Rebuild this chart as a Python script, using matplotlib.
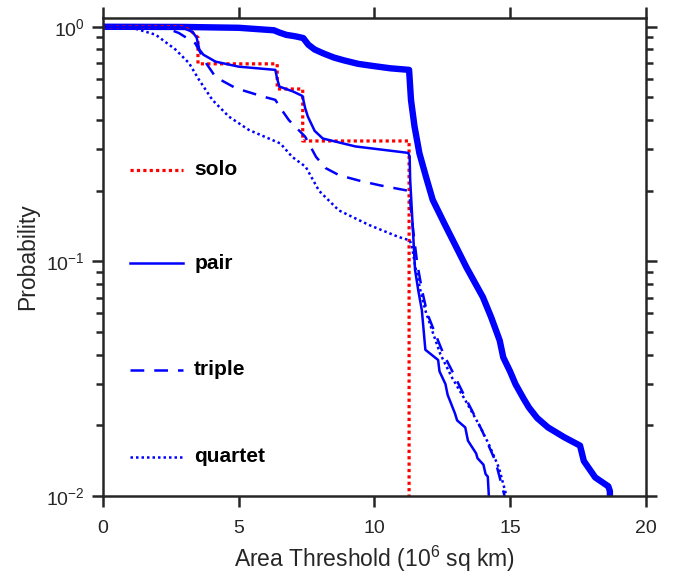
import matplotlib
matplotlib.use('Agg')
import matplotlib.pyplot as plt
from matplotlib.ticker import LogLocator, LogFormatterMathtext, NullFormatter

plt.rcParams['font.family'] = ['Liberation Sans', 'DejaVu Sans']
plt.rcParams['mathtext.default'] = 'regular'

BLUE = (0, 0, 1)
RED = (1, 0, 0)
SPINE = '#262626'

# any (thick) curve
any_x = [0, 3.0, 5.0, 6.3, 6.5, 6.75, 7.1, 7.38, 7.57, 7.8, 8.12, 8.5, 8.86, 9.4,
         9.97, 10.6, 11.28, 11.35, 11.48, 11.66, 11.9, 12.15, 12.58, 13.07, 13.4,
         14.0, 14.3, 14.62, 14.75, 15.0, 15.2, 15.5, 15.7, 16.0, 16.4, 17.0, 17.58,
         17.72, 18.14, 18.62, 18.68, 18.68]
any_p = [1.0, 0.998, 0.99, 0.966, 0.945, 0.924, 0.91, 0.895, 0.838, 0.80, 0.77,
         0.74, 0.72, 0.695, 0.68, 0.665, 0.655, 0.488, 0.376, 0.289, 0.23, 0.183,
         0.145, 0.112, 0.094, 0.0704, 0.058, 0.046, 0.039, 0.034, 0.030, 0.026,
         0.0238, 0.0215, 0.0196, 0.0178, 0.0164, 0.0141, 0.012, 0.011, 0.0105, 0.009]

solo_x = [0, 2.9, 3.2, 3.45, 3.5, 3.5, 6.42, 6.42, 7.36, 7.36, 11.28, 11.28]
solo_p = [1.0, 1.0, 0.97, 0.91, 0.9, 0.695, 0.695, 0.543, 0.543, 0.326, 0.326, 0.005]

pair_x = [0, 2.9, 3.3, 3.45, 3.55, 3.7, 4.15, 5.0, 6.35, 6.42, 6.5, 7.0, 7.35,
          7.45, 7.55, 7.8, 8.1, 9.3, 11.25, 11.3, 11.32, 11.44, 11.5, 11.62, 11.75,
          11.88, 12.35, 12.4, 12.62, 12.7, 12.97, 13.05, 13.35, 13.45, 13.75,
          13.8, 14.02, 14.1, 14.18, 14.23]
pair_p = [1.0, 0.995, 0.95, 0.9, 0.8, 0.76, 0.71, 0.676, 0.655, 0.6, 0.556, 0.53,
          0.507, 0.45, 0.414, 0.36, 0.334, 0.309, 0.29, 0.28, 0.223, 0.124, 0.092,
          0.075, 0.062, 0.042, 0.038, 0.034, 0.030, 0.027, 0.0225, 0.021, 0.0196,
          0.0172, 0.0152, 0.0145, 0.0136, 0.0124, 0.0121, 0.0095]

triple_x = [0, 2.3, 2.8, 3.4, 3.8, 4.15, 4.9, 5.9, 6.35, 6.6, 6.85, 7.45, 7.85,
            8.2, 8.7, 9.5, 10.2, 11.25, 11.3, 11.4, 11.58, 11.76, 11.95, 12.25,
            12.56, 12.93, 13.3, 13.6, 13.97, 14.46, 14.85]
triple_p = [1.0, 0.99, 0.94, 0.85, 0.70, 0.61, 0.547, 0.504, 0.488, 0.44, 0.40,
            0.34, 0.279, 0.25, 0.233, 0.22, 0.211, 0.20, 0.19, 0.145, 0.098, 0.075,
            0.06, 0.049, 0.04, 0.033, 0.027, 0.0231, 0.019, 0.0141, 0.0095]

quartet_x = [0, 0.5, 1.08, 1.94, 2.67, 3.17, 3.54, 4.03, 4.64, 5.38, 6.11, 6.54,
             6.97, 7.47, 7.96, 8.69, 9.8, 10.9, 11.3, 11.38, 11.51, 11.7, 11.88,
             12.13, 12.43, 12.86, 13.36, 13.85, 14.22, 14.59, 14.92]
quartet_p = [1.0, 1.0, 0.99, 0.925, 0.80, 0.70, 0.594, 0.488, 0.414, 0.363, 0.334,
             0.318, 0.279, 0.253, 0.20, 0.165, 0.143, 0.127, 0.123, 0.117, 0.0946,
             0.075, 0.0618, 0.0507, 0.0403, 0.032, 0.0255, 0.0202, 0.0166, 0.0132,
             0.0095]

labels = ['solo', 'pair', 'triple', 'quartet']
label_y = [0.682, 0.487, 0.264, 0.082]

fig = plt.figure(figsize=(6.83, 5.8), dpi=100)
ax = fig.add_axes([0.1508, 0.1448, 0.7946, 0.8242])

ax.plot(any_x, any_p, color=BLUE, lw=4.6, solid_joinstyle='round')
styles = [dict(color=RED, lw=2.3, ls=(0, (1, 1))),
          dict(color=BLUE, lw=1.8, ls='-'),
          dict(color=BLUE, lw=1.8, ls=(0, (5.5, 4))),
          dict(color=BLUE, lw=1.8, ls=(0, (1, 1.2)))]
data = [(solo_x, solo_p), (pair_x, pair_p), (triple_x, triple_p), (quartet_x, quartet_p)]
for (x, p), st in zip(data, styles):
    ax.plot(x, p, **st)

# hand-made legend
for lab, yy, st in zip(labels, label_y, styles):
    ax.plot([0.05, 0.147], [yy, yy], transform=ax.transAxes, **st)
    ax.text(0.168, yy, lab, transform=ax.transAxes, fontsize=15,
            fontweight='bold', va='center', ha='left')

ax.set_yscale('log')
ax.set_xlim(0, 20)
ax.set_ylim(0.01, 1.09)
ax.set_xticks([0, 5, 10, 15, 20])
ax.yaxis.set_major_locator(LogLocator(base=10, numticks=5))
ax.yaxis.set_major_formatter(LogFormatterMathtext())
ax.yaxis.set_minor_locator(LogLocator(base=10, subs=range(2, 10), numticks=10))
ax.yaxis.set_minor_formatter(NullFormatter())

ax.tick_params(which='both', direction='out', top=True, right=True,
               color=SPINE, width=1.8, labelsize=14, labelcolor='#262626')
ax.tick_params(which='major', length=8)
ax.tick_params(which='minor', length=5)
ax.tick_params(axis='x', pad=9)
ax.tick_params(axis='y', pad=5)
for s in ax.spines.values():
    s.set_linewidth(1.8)
    s.set_color(SPINE)

ax.set_xlabel(r'Area Threshold (10$^{6}$ sq km)', fontsize=16.5, color='#262626',
              labelpad=5)
ax.set_ylabel('Probability', fontsize=16.5, color='#262626', labelpad=5)

fig.savefig('out.png', dpi=100)
